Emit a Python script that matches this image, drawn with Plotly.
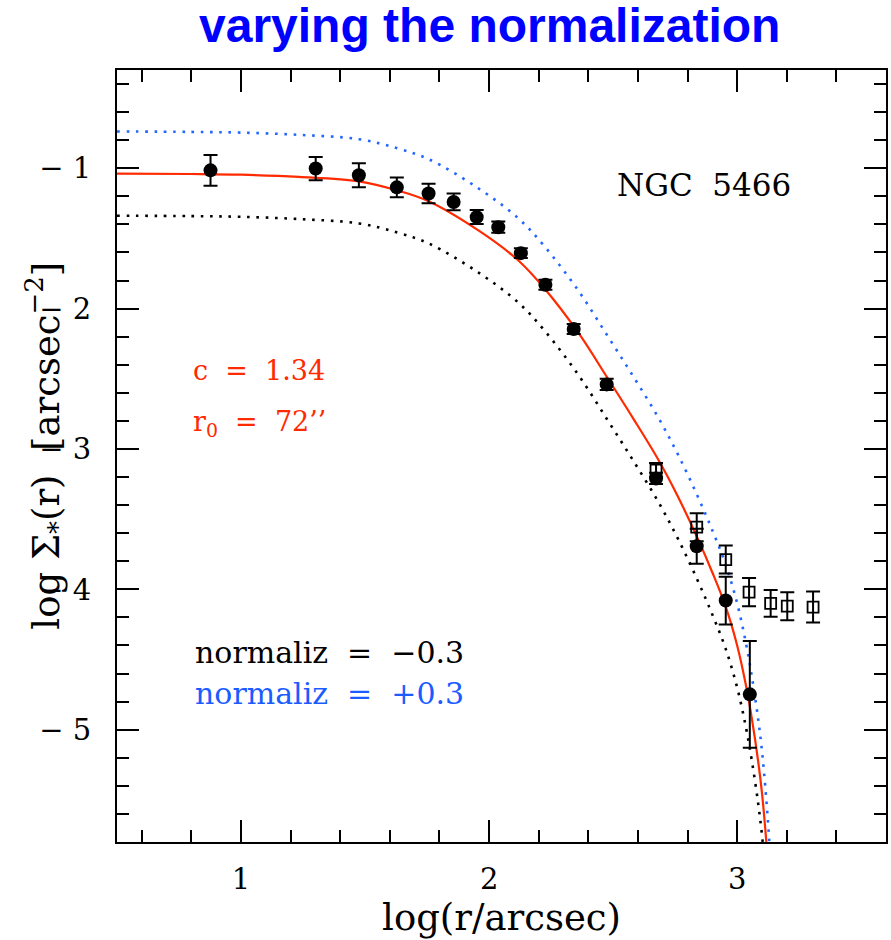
import plotly.graph_objects as go

# NGC 5466 stellar surface density profile
# filled circles: star counts; open squares: outer points (background-dominated)
r_counts = [0.877, 1.301, 1.475, 1.628, 1.756, 1.857, 1.950, 2.037, 2.128, 2.227,
            2.341, 2.474, 2.673, 2.837, 2.954, 3.051]
sig_counts = [-1.015, -1.002, -1.050, -1.136, -1.180, -1.240, -1.348, -1.420, -1.605, -1.830,
              -2.145, -2.540, -3.210, -3.693, -4.080, -4.748]
err_counts = [0.11, 0.083, 0.085, 0.07, 0.07, 0.06, 0.05, 0.04, 0.035, 0.035,
              0.035, 0.04, 0.04, 0.125, 0.17, 0.38]

r_outer = [2.673, 2.837, 2.954, 3.048, 3.135, 3.202, 3.306]
sig_outer = [-3.150, -3.557, -3.788, -4.020, -4.100, -4.120, -4.126]
err_outer = [0.05, 0.10, 0.10, 0.10, 0.095, 0.10, 0.11]

# King model (c = 1.34, r0 = 72") sampled along log r
r_model = [0.50, 0.80, 1.00, 1.234, 1.475, 1.634, 1.756, 1.957, 2.118, 2.225,
           2.359, 2.476, 2.580, 2.680, 2.760, 2.839, 2.900, 2.953, 3.000, 3.035,
           3.060, 3.085, 3.100, 3.113, 3.124, 3.133, 3.140]
sig_model = [-1.038, -1.041, -1.046, -1.062, -1.093, -1.160, -1.235, -1.443, -1.657, -1.860,
             -2.170, -2.490, -2.780, -3.070, -3.335, -3.630, -3.880, -4.120, -4.400, -4.680,
             -4.930, -5.230, -5.450, -5.700, -5.950, -6.200, -6.450]

norm_low = -0.3
norm_high = +0.3

RED = "#ff2a00"
BLUE_LINE = "#2266ff"
BLUE_TEXT = "#1a5cff"
SERIF = "DejaVu Serif"
DOTS = "2.6px,6.7px"

fig = go.Figure()

fig.add_trace(go.Scatter(
    x=r_model, y=[s + norm_low for s in sig_model], mode="lines",
    line=dict(color="black", width=2.6, dash=DOTS, shape="spline"), hoverinfo="skip"))
fig.add_trace(go.Scatter(
    x=r_model, y=[s + norm_high for s in sig_model], mode="lines",
    line=dict(color=BLUE_LINE, width=2.6, dash=DOTS, shape="spline"), hoverinfo="skip"))
fig.add_trace(go.Scatter(
    x=r_model, y=sig_model, mode="lines", line=dict(color=RED, width=2.2, shape="spline"),
    hoverinfo="skip"))

fig.add_trace(go.Scatter(
    x=r_outer, y=sig_outer, mode="markers",
    marker=dict(symbol="square-open", size=11, color="black", line=dict(width=1.8)),
    error_y=dict(type="data", array=err_outer, color="black", thickness=2, width=7)))
fig.add_trace(go.Scatter(
    x=r_counts, y=sig_counts, mode="markers",
    marker=dict(symbol="circle", size=14, color="black"),
    error_y=dict(type="data", array=err_counts, color="black", thickness=2, width=7)))

axis_common = dict(
    showgrid=False, zeroline=False, showline=True, linecolor="black", linewidth=2,
    mirror="allticks", ticks="inside", ticklen=22, tickwidth=2, tickcolor="black",
    tickfont=dict(family=SERIF, size=29, color="black"),
    minor=dict(ticks="inside", ticklen=12, tickwidth=2, tickcolor="black", dtick=0.2, tick0=0),
)

fig.update_xaxes(range=[0.5, 3.6], tickvals=[1, 2, 3], ticktext=["1", "2", "3"],
                 ticklabelstandoff=10,
                 title=dict(text="log(r/arcsec)", font=dict(family=SERIF, size=37, color="black"),
                            standoff=2),
                 **axis_common)
fig.update_yaxes(range=[-5.8, -0.3], tickvals=[-1, -2, -3, -4, -5],
                 ticktext=["\u2212 1", "\u2212 2", "\u2212 3", "\u2212 4", "\u2212 5"],
                 ticklabelstandoff=18,
                 **axis_common)

annotations = [
    dict(text="varying the normalization", xref="paper", yref="paper", x=0.485, y=1.058,
         showarrow=False, xanchor="center", yanchor="middle",
         font=dict(family="Liberation Sans", size=48, color="#0000ff", weight="bold")),
    dict(text="log \u03a3<sub>*</sub>(r)  [arcsec<sup>\u22122</sup>]", xref="paper", yref="paper",
         x=-0.093, y=0.514, textangle=-90, showarrow=False, xanchor="center", yanchor="middle",
         font=dict(family=SERIF, size=37, color="black")),
    dict(text="NGC  5466", x=2.507, y=-1.12, showarrow=False, xanchor="left", yanchor="middle",
         font=dict(family=SERIF, size=31, color="black")),
    dict(text="c  =  1.34", x=0.80, y=-2.44, showarrow=False, xanchor="left", yanchor="middle",
         font=dict(family=SERIF, size=27, color=RED)),
    dict(text="r<sub>0</sub>  =  72\u2019\u2019", x=0.80, y=-2.82, showarrow=False, xanchor="left",
         yanchor="middle", font=dict(family=SERIF, size=27, color=RED)),
    dict(text="normaliz  =  \u22120.3", x=0.805, y=-4.45, showarrow=False, xanchor="left",
         yanchor="middle", font=dict(family=SERIF, size=30, color="black")),
    dict(text="normaliz  =  +0.3", x=0.805, y=-4.74, showarrow=False, xanchor="left",
         yanchor="middle", font=dict(family=SERIF, size=30, color=BLUE_TEXT)),
]

fig.update_layout(
    width=891, height=940, margin=dict(l=117, r=3, t=70, b=98),
    paper_bgcolor="white", plot_bgcolor="white", showlegend=False,
    annotations=annotations,
)

fig.write_html("out.html")
